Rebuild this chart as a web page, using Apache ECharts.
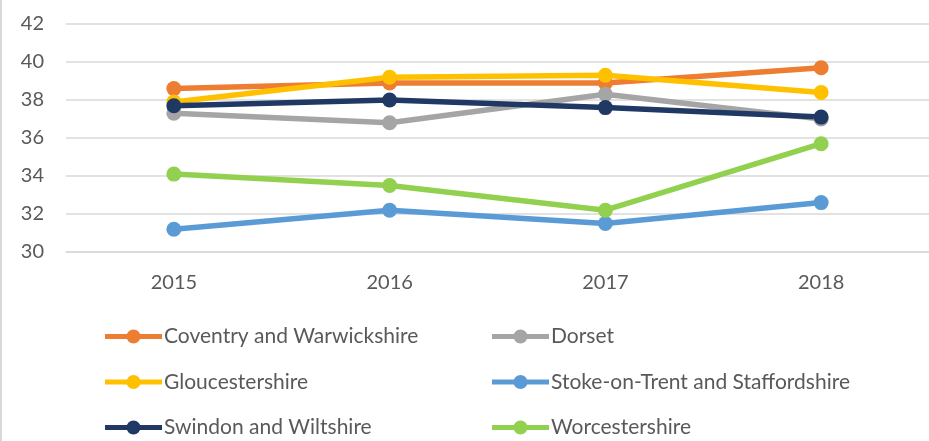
<!DOCTYPE html>
<html>
<head>
<meta charset="utf-8">
<script src="https://cdn.jsdelivr.net/npm/echarts@6/dist/echarts.min.js"></script>
<style>
  html, body { margin: 0; padding: 0; background: #fff; }
  #chart { width: 927px; height: 441px; border-left: 2px solid #d9d9d9; }
</style>
</head>
<body>
<div id="chart"></div>
<script>
// 年份
var years = ['2015', '2016', '2017', '2018']
// 各地区数据
var coventry = [38.6, 38.9, 38.9, 39.7]
var dorset = [37.3, 36.8, 38.3, 37.0]
var gloucestershire = [37.9, 39.2, 39.3, 38.4]
var stoke = [31.2, 32.2, 31.5, 32.6]
var swindon = [37.7, 38.0, 37.6, 37.1]
var worcestershire = [34.1, 33.5, 32.2, 35.7]

var names = ['Coventry and Warwickshire', 'Dorset', 'Gloucestershire',
  'Stoke-on-Trent and Staffordshire', 'Swindon and Wiltshire', 'Worcestershire']
var values = [coventry, dorset, gloucestershire, stoke, swindon, worcestershire]
var colors = ['#ED7D31', '#A5A5A5', '#FFC000', '#5B9BD5', '#203864', '#92D050']

var chart = echarts.init(document.getElementById('chart'))

// 图例：线 + 圆点
var legendIcon = 'path://M0,7.5 L57,7.5 L57,12.5 L0,12.5 Z M21.5,10 a7,7 0 1,1 14,0 a7,7 0 1,1 -14,0 Z'

function makeLegend (left, data) {
  return {
    orient: 'vertical',
    left: left,
    top: 326,
    height: 115,
    padding: 0,
    icon: legendIcon,
    itemWidth: 57,
    itemHeight: 20,
    itemGap: 24.5,
    data: data,
    textStyle: { fontFamily: 'Lato', fontSize: 21, color: '#595959', padding: [0, 0, 0, -3] }
  }
}

chart.setOption({
  color: colors,
  animation: false,
  grid: { left: 64, top: 24, width: 870, height: 228 },
  legend: [
    makeLegend(103, [names[0], names[2], names[4]]),
    makeLegend(490, [names[1], names[3], names[5]])
  ],
  xAxis: {
    type: 'category',
    data: years,
    axisLine: { lineStyle: { color: '#d9d9d9', width: 1.5 } },
    axisTick: { show: false },
    axisLabel: { fontFamily: 'Lato', fontSize: 20, color: '#595959', margin: 21 }
  },
  yAxis: {
    type: 'value',
    min: 30,
    max: 42,
    interval: 2,
    axisLine: { show: false },
    axisTick: { show: false },
    splitLine: { lineStyle: { color: '#d9d9d9', width: 1.5 } },
    axisLabel: { fontFamily: 'Lato', fontSize: 20, color: '#595959', margin: 22 }
  },
  series: names.map(function (name, i) {
    return {
      name: name,
      type: 'line',
      data: values[i],
      symbol: 'circle',
      symbolSize: 15,
      lineStyle: { width: 5.5 }
    }
  })
})
</script>
</body>
</html>
